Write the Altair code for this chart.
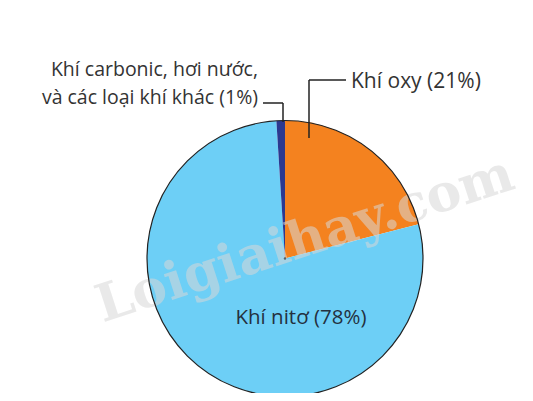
import altair as alt
import pandas as pd

# ---- data ----
categories = ["Khí oxy", "Khí nitơ", "Khí carbonic, hơi nước,\nvà các loại khí khác"]
percents = [21, 78, 1]
order_idx = [0, 1, 2]
colors = ["#F4821F", "#6DCFF6", "#2B3990"]

df = pd.DataFrame({"cat": categories, "pct": percents, "ord": order_idx})
df["label"] = [f"{c} ({p}%)" for c, p in zip(categories, percents)]

CX, CY, R = 277, 250.5, 138

pie = alt.Chart(df).mark_arc(outerRadius=R, stroke=None).encode(
    theta=alt.Theta("pct:Q", stack=True),
    order=alt.Order("ord:Q"),
    color=alt.Color("cat:N", scale=alt.Scale(domain=categories, range=colors), legend=None),
    x=alt.value(CX), y=alt.value(CY),
)

outline = alt.Chart(df.head(1)).mark_arc(
    outerRadius=R, theta=0, theta2=6.2832, fillOpacity=0, stroke="#222222", strokeWidth=1.2
).encode(x=alt.value(CX), y=alt.value(CY))

center_dot = alt.Chart(df.head(1)).mark_point(filled=True, size=6, color="#333333").encode(
    x=alt.value(CX), y=alt.value(CY))

watermark = alt.Chart(df.head(1)).mark_text(
    text="Loigiaihay.com", font="DejaVu Serif", fontWeight="bold", fontSize=52,
    angle=342, color="#d8d8d8", opacity=0.55, align="center", baseline="middle"
).encode(x=alt.value(297), y=alt.value(232))

def rule(x1, y1, x2, y2):
    return alt.Chart(df.head(1)).mark_rule(color="#222222", strokeWidth=1.5).encode(
        x=alt.value(x1), y=alt.value(y1), x2=alt.value(x2), y2=alt.value(y2))

leaders = [
    rule(301, 72, 338, 72), rule(301, 72, 301, 130),
    rule(255, 95, 275, 95), rule(275, 95, 275, 114),
]

lab_oxy = alt.Chart(df[df.ord == 0]).mark_text(
    font="Open Sans", fontSize=21, color="#333333", align="left", baseline="middle"
).encode(text="label:N", x=alt.value(343), y=alt.value(74))

lab_n = alt.Chart(df[df.ord == 1]).mark_text(
    font="Open Sans", fontSize=20.5, color="#24313f", align="center", baseline="middle"
).encode(text="label:N", x=alt.value(293), y=alt.value(310))

lab_c = alt.Chart(df[df.ord == 2]).mark_text(
    font="Open Sans", fontSize=19.5, color="#333333", align="right", baseline="middle",
    lineBreak="\n", lineHeight=28
).encode(text="label:N", x=alt.value(250), y=alt.value(62))

chart = alt.layer(pie, watermark, outline, center_dot, *leaders, lab_oxy, lab_n, lab_c).properties(
    width=517, height=385, padding=0, autosize="none"
).configure_view(stroke=None)

chart.save("out.html", embed_options={"renderer": "svg", "actions": False})
